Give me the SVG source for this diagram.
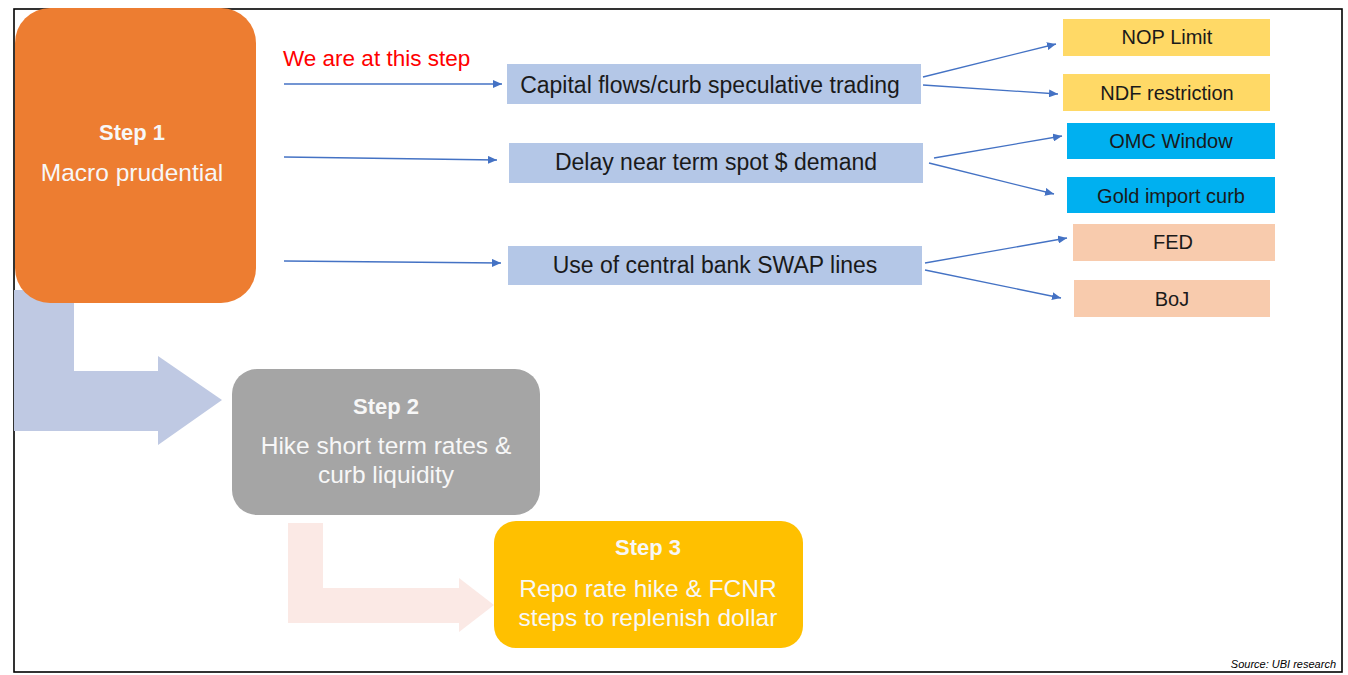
<svg xmlns="http://www.w3.org/2000/svg" width="1348" height="675" viewBox="0 0 1348 675">
<style>
  .t { font-family: "Liberation Sans", Arial, sans-serif; }
  .stepT { font-family: "Liberation Sans", Arial, sans-serif; fill: #F7F7F7; text-anchor: middle; }
  .bold { font-weight: bold; font-size: 22px; }
  .body { font-size: 24.5px; }
  .mid { font-family: "Liberation Sans", Arial, sans-serif; font-size: 23px; fill: #1a1a1a; text-anchor: middle; }
  .rt { font-family: "Liberation Sans", Arial, sans-serif; font-size: 20px; fill: #1a1a1a; text-anchor: middle; }
  .midbox { fill: #B4C7E7; }
  .conn { stroke: #4472C4; stroke-width: 1.3; fill: none; marker-end: url(#ah); }
</style>
<defs>
  <marker id="ah" markerUnits="userSpaceOnUse" markerWidth="10" markerHeight="8" refX="9" refY="4" orient="auto">
    <path d="M0,0 L9,4 L0,8 Z" fill="#4472C4"/>
  </marker>
</defs>
<rect x="0" y="0" width="1348" height="675" fill="#FFFFFF"/>
<rect x="14" y="9" width="1328" height="663" fill="none" stroke="#000000" stroke-width="1.6"/>

<g id="flow-arrow-1-2">
  <path d="M14,290 L74,290 L74,371 L158,371 L158,356 L222,400 L158,445 L158,431 L14,431 Z" fill="#BFC9E3"/>
</g>
<g id="flow-arrow-2-3">
  <path d="M288,523 L323,523 L323,588 L459,588 L459,578 L494,605 L459,632 L459,623 L288,623 Z" fill="#FBE9E5"/>
</g>

<g id="step1">
  <rect x="15" y="8" width="241" height="295" rx="35" ry="35" fill="#ED7D31"/>
  <text class="stepT bold" x="132" y="140">Step 1</text>
  <text class="stepT body" x="132" y="181">Macro prudential</text>
</g>
<g id="step2">
  <rect x="232" y="369" width="308" height="146" rx="25" ry="25" fill="#A5A5A5"/>
  <text class="stepT bold" x="386" y="414">Step 2</text>
  <text class="stepT body" x="386" y="454">Hike short term rates &amp;</text>
  <text class="stepT body" x="386" y="483">curb liquidity</text>
</g>
<g id="step3">
  <rect x="494" y="521" width="309" height="127" rx="22" ry="22" fill="#FFC000"/>
  <text class="stepT bold" x="648" y="555">Step 3</text>
  <text class="stepT body" x="648" y="597">Repo rate hike &amp; FCNR</text>
  <text class="stepT body" x="648" y="626">steps to replenish dollar</text>
</g>

<g id="note">
  <text class="t" x="283" y="66" font-size="22.5" fill="#FF0000">We are at this step</text>
</g>

<g id="capital-flows">
  <rect class="midbox" x="507" y="64" width="414" height="40"/>
  <text class="mid" x="710" y="93">Capital flows/curb speculative trading</text>
</g>
<g id="delay-demand">
  <rect class="midbox" x="509" y="143" width="414" height="40"/>
  <text class="mid" x="716" y="170">Delay near term spot $ demand</text>
</g>
<g id="swap-lines">
  <rect class="midbox" x="508" y="246" width="414" height="39"/>
  <text class="mid" x="715" y="273">Use of central bank SWAP lines</text>
</g>

<g id="nop-limit">
  <rect x="1063" y="19" width="207" height="37" fill="#FFD966"/>
  <text class="rt" x="1167" y="44">NOP Limit</text>
</g>
<g id="ndf-restriction">
  <rect x="1063" y="74" width="207" height="37" fill="#FFD966"/>
  <text class="rt" x="1167" y="100">NDF restriction</text>
</g>
<g id="omc-window">
  <rect x="1067" y="123" width="208" height="36" fill="#00B0F0"/>
  <text class="rt" x="1171" y="148">OMC Window</text>
</g>
<g id="gold-import">
  <rect x="1067" y="177" width="208" height="36" fill="#00B0F0"/>
  <text class="rt" x="1171" y="203">Gold import curb</text>
</g>
<g id="fed">
  <rect x="1073" y="224" width="202" height="37" fill="#F8CBAD"/>
  <text class="rt" x="1173" y="249">FED</text>
</g>
<g id="boj">
  <rect x="1074" y="280" width="196" height="37" fill="#F8CBAD"/>
  <text class="rt" x="1172" y="306">BoJ</text>
</g>

<g id="connectors">
  <line class="conn" x1="284" y1="84" x2="502" y2="84"/>
  <line class="conn" x1="284" y1="157" x2="497" y2="160"/>
  <line class="conn" x1="284" y1="261" x2="501" y2="263"/>
  <line class="conn" x1="923" y1="77" x2="1056" y2="44"/>
  <line class="conn" x1="923" y1="85" x2="1058" y2="94"/>
  <line class="conn" x1="934" y1="158" x2="1062" y2="136"/>
  <line class="conn" x1="929" y1="163" x2="1054" y2="194"/>
  <line class="conn" x1="925" y1="263" x2="1067" y2="238"/>
  <line class="conn" x1="925" y1="270" x2="1061" y2="298"/>
</g>

<g id="source">
  <text class="t" x="1336" y="668" font-size="11" font-style="italic" text-anchor="end" fill="#000000">Source: UBI research</text>
</g>
</svg>
